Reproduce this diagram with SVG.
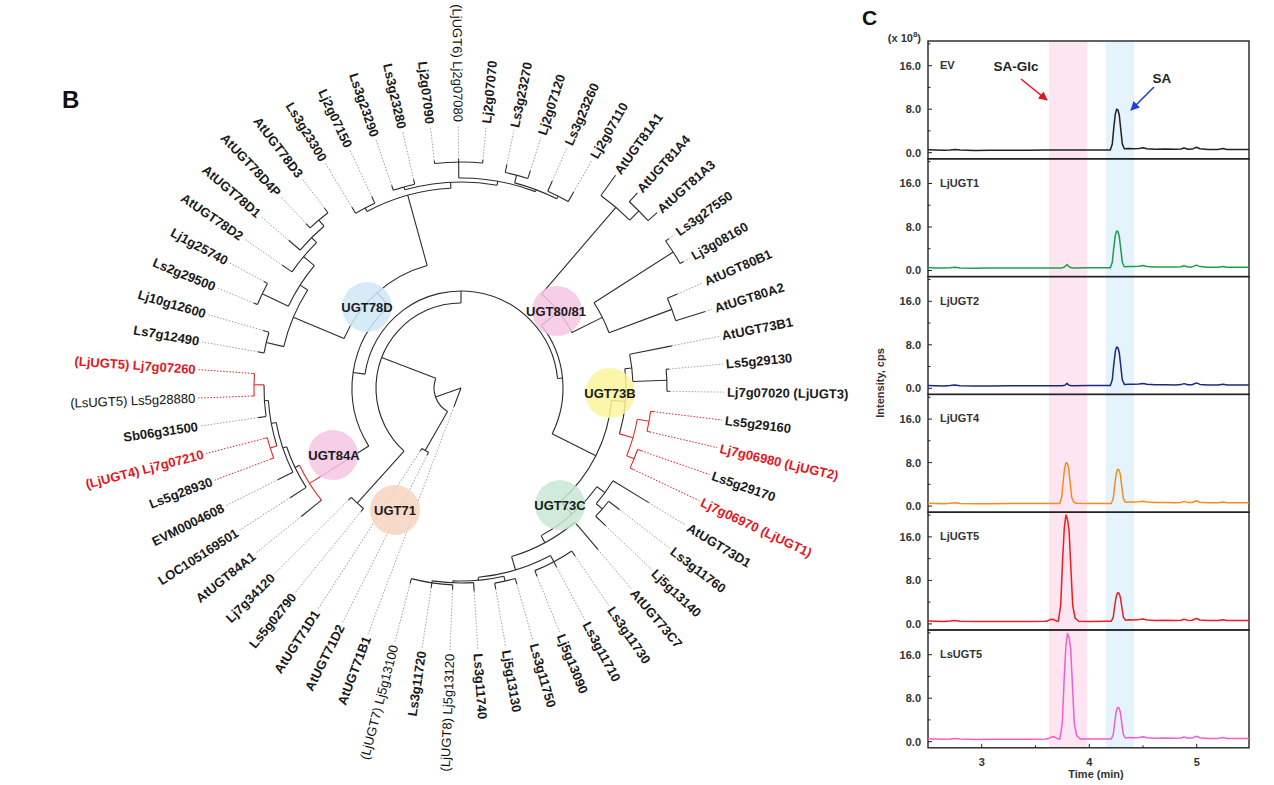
<svg xmlns="http://www.w3.org/2000/svg" width="1274" height="785" viewBox="0 0 1274 785">
<style>
.k{fill:none;stroke:#2b2b2b;stroke-width:1.1}
.rr{fill:none;stroke:#e8262b;stroke-width:1.1}
.dg{stroke:#9c9c9c;stroke-width:0.9;stroke-dasharray:1.5 1.6}
.dr{stroke:#e8262b;stroke-width:1;stroke-dasharray:1.5 1.6}
.lb{font-family:"Liberation Sans",Arial,sans-serif;font-size:13px;font-weight:bold;fill:#1a1a1a}
.lr{fill:#e8141c}
.ln{font-weight:normal;fill:#111;font-size:13px}
.cl{font-family:"Liberation Sans",Arial,sans-serif;font-size:13px;font-weight:bold;fill:#1a1a1a;text-anchor:middle}
.ax{font-family:"Liberation Sans",Arial,sans-serif;font-size:11px;font-weight:bold;fill:#333}
.fr{fill:none;stroke:#222;stroke-width:1.4}
.tk{stroke:#222;stroke-width:1}
.tr{fill:none;stroke-width:1.5;stroke-linejoin:round}
</style>
<defs>
<marker id="arR" viewBox="0 0 10 10" refX="9" refY="5" markerWidth="9" markerHeight="9" markerUnits="userSpaceOnUse" orient="auto"><path d="M0,0 L10,5 L0,10 z" fill="#e8141c"/></marker>
<marker id="arB" viewBox="0 0 10 10" refX="9" refY="5" markerWidth="9" markerHeight="9" markerUnits="userSpaceOnUse" orient="auto"><path d="M0,0 L10,5 L0,10 z" fill="#1d3fe0"/></marker>
</defs>
<rect width="1274" height="785" fill="#fff"/>
<text x="62" y="108" font-family="Liberation Sans,Arial,sans-serif" font-size="24" font-weight="bold" fill="#111">B</text>
<text x="862" y="25" font-family="Liberation Sans,Arial,sans-serif" font-size="21" font-weight="bold" fill="#111">C</text>

<g id="connectors" transform="translate(461,388)">
<g class="k">
<line x1="0" x2="20" transform="rotate(110.7)"/>
<line x1="0" x2="27" transform="rotate(160.4)"/>
<line x1="27" x2="72" transform="rotate(119.85)"/>
<line x1="72" x2="75" transform="rotate(116.8)"/><line x1="72" x2="75" transform="rotate(122.9)"/>
<line x1="27" x2="85" transform="rotate(201)"/>
<line x1="85" x2="155" transform="rotate(132.05)"/>
<line x1="155" x2="159" transform="rotate(129)"/><line x1="155" x2="159" transform="rotate(135.1)"/>
<line x1="85" x2="97" transform="rotate(270)"/>
<line x1="97" x2="109" transform="rotate(188.2)"/>
<line x1="97" x2="102" transform="rotate(354.35)"/>
<line x1="109" x2="150" transform="rotate(147.8)"/>
<line x1="179" x2="205" transform="rotate(141.2)"/>
<line x1="179" x2="184" transform="rotate(154.4)"/>
<line x1="184" x2="203" transform="rotate(147.3)"/>
<line x1="184" x2="188" transform="rotate(161.4)"/>
<line x1="188" x2="205" transform="rotate(153.4)"/>
<line x1="188" x2="193" transform="rotate(169.4)"/>
<line x1="193" x2="197" transform="rotate(176.3)"/>
<line x1="197" x2="205" transform="rotate(171.7)"/>
<line x1="109" x2="127" transform="rotate(228.7)"/>
<line x1="127" x2="182" transform="rotate(202.9)"/>
<line x1="182" x2="200" transform="rotate(193.15)"/>
<line x1="200" x2="206" transform="rotate(190.1)"/><line x1="200" x2="206" transform="rotate(196.2)"/>
<line x1="182" x2="191" transform="rotate(212.6)"/>
<line x1="191" x2="220" transform="rotate(205.35)"/>
<line x1="220" x2="224" transform="rotate(202.3)"/><line x1="220" x2="224" transform="rotate(208.4)"/>
<line x1="191" x2="205" transform="rotate(219.85)"/>
<line x1="205" x2="217" transform="rotate(214.5)"/>
<line x1="205" x2="212" transform="rotate(225.2)"/>
<line x1="212" x2="227" transform="rotate(220.6)"/>
<line x1="212" x2="220" transform="rotate(229.75)"/>
<line x1="220" x2="226" transform="rotate(226.7)"/><line x1="220" x2="226" transform="rotate(232.8)"/>
<line x1="127" x2="200" transform="rotate(254.55)"/>
<line x1="200" x2="204" transform="rotate(242)"/>
<line x1="204" x2="211" transform="rotate(238.9)"/><line x1="204" x2="211" transform="rotate(245)"/>
<line x1="200" x2="206" transform="rotate(267.1)"/>
<line x1="206" x2="209" transform="rotate(254.15)"/>
<line x1="209" x2="214" transform="rotate(251.1)"/><line x1="209" x2="214" transform="rotate(257.2)"/>
<line x1="206" x2="210" transform="rotate(280.1)"/>
<line x1="210" x2="226" transform="rotate(269.4)"/>
<line x1="226" x2="229" transform="rotate(263.3)"/><line x1="226" x2="229" transform="rotate(269.4)"/><line x1="226" x2="229" transform="rotate(275.5)"/>
<line x1="210" x2="212" transform="rotate(290.75)"/>
<line x1="212" x2="220" transform="rotate(284.65)"/>
<line x1="220" x2="228" transform="rotate(281.6)"/><line x1="220" x2="228" transform="rotate(287.7)"/>
<line x1="212" x2="215" transform="rotate(296.85)"/>
<line x1="215" x2="226" transform="rotate(293.8)"/><line x1="215" x2="226" transform="rotate(299.9)"/>
<line x1="102" x2="124" transform="rotate(322)"/>
<line x1="124" x2="238" transform="rotate(310.6)"/>
<line x1="238" x2="263" transform="rotate(306)"/>
<line x1="238" x2="251" transform="rotate(315.15)"/>
<line x1="251" x2="263" transform="rotate(312.1)"/><line x1="251" x2="263" transform="rotate(318.2)"/>
<line x1="124" x2="158" transform="rotate(333.45)"/>
<line x1="158" x2="252" transform="rotate(327.35)"/>
<line x1="252" x2="256" transform="rotate(324.3)"/><line x1="252" x2="256" transform="rotate(330.4)"/>
<line x1="158" x2="225" transform="rotate(339.55)"/>
<line x1="225" x2="236" transform="rotate(336.5)"/><line x1="225" x2="256" transform="rotate(342.6)"/>
<line x1="102" x2="151" transform="rotate(26.7)"/>
<line x1="151" x2="165" transform="rotate(4.7)"/>
<line x1="165" x2="172" transform="rotate(353.3)"/>
<line x1="172" x2="215" transform="rotate(348.7)"/>
<line x1="172" x2="206" transform="rotate(357.85)"/>
<line x1="206" x2="209" transform="rotate(354.8)"/><line x1="206" x2="209" transform="rotate(0.9)"/>
<line x1="151" x2="168" transform="rotate(48.7)"/>
<line x1="168" x2="178" transform="rotate(36)"/>
<line x1="178" x2="220" transform="rotate(31.4)"/>
<line x1="178" x2="186" transform="rotate(40.55)"/>
<line x1="186" x2="200" transform="rotate(37.5)"/><line x1="186" x2="200" transform="rotate(43.6)"/>
<line x1="168" x2="176" transform="rotate(61.5)"/>
<line x1="176" x2="212" transform="rotate(49.7)"/>
<line x1="176" x2="190" transform="rotate(73.3)"/>
<line x1="190" x2="197" transform="rotate(61.9)"/>
<line x1="197" x2="203" transform="rotate(55.8)"/><line x1="197" x2="203" transform="rotate(61.9)"/><line x1="197" x2="203" transform="rotate(68)"/>
<line x1="190" x2="193" transform="rotate(84.8)"/>
<line x1="193" x2="198" transform="rotate(77.15)"/>
<line x1="198" x2="204" transform="rotate(74.1)"/><line x1="198" x2="204" transform="rotate(80.2)"/>
<line x1="193" x2="195" transform="rotate(92.4)"/>
<line x1="195" x2="204" transform="rotate(86.3)"/>
<line x1="195" x2="197" transform="rotate(98.5)"/>
<line x1="197" x2="202" transform="rotate(92.4)"/><line x1="197" x2="202" transform="rotate(98.5)"/><line x1="197" x2="202" transform="rotate(104.6)"/>
<circle r="27" pathLength="360" stroke-dasharray="81.15 720" transform="rotate(119.85)"/>
<circle r="72" pathLength="360" stroke-dasharray="6.1 720" transform="rotate(116.8)"/>
<circle r="85" pathLength="360" stroke-dasharray="137.95 720" transform="rotate(132.05)"/>
<circle r="155" pathLength="360" stroke-dasharray="6.1 720" transform="rotate(129)"/>
<circle r="97" pathLength="360" stroke-dasharray="166.15 720" transform="rotate(188.2)"/>
<circle r="109" pathLength="360" stroke-dasharray="80.9 720" transform="rotate(147.8)"/>
<circle r="102" pathLength="360" stroke-dasharray="64.7 720" transform="rotate(322)"/>
<circle r="184" pathLength="360" stroke-dasharray="14.1 720" transform="rotate(147.3)"/>
<circle r="188" pathLength="360" stroke-dasharray="16 720" transform="rotate(153.4)"/>
<circle r="193" pathLength="360" stroke-dasharray="13.75 720" transform="rotate(162.55)"/>
<circle r="197" pathLength="360" stroke-dasharray="9.2 720" transform="rotate(171.7)"/>
<circle r="127" pathLength="360" stroke-dasharray="51.65 720" transform="rotate(202.9)"/>
<circle r="182" pathLength="360" stroke-dasharray="19.45 720" transform="rotate(193.15)"/>
<circle r="200" pathLength="360" stroke-dasharray="6.1 720" transform="rotate(190.1)"/>
<circle r="191" pathLength="360" stroke-dasharray="14.5 720" transform="rotate(205.35)"/>
<circle r="220" pathLength="360" stroke-dasharray="6.1 720" transform="rotate(202.3)"/>
<circle r="205" pathLength="360" stroke-dasharray="10.7 720" transform="rotate(214.5)"/>
<circle r="212" pathLength="360" stroke-dasharray="9.15 720" transform="rotate(220.6)"/>
<circle r="220" pathLength="360" stroke-dasharray="6.1 720" transform="rotate(226.7)"/>
<circle r="200" pathLength="360" stroke-dasharray="25.1 720" transform="rotate(242)"/>
<circle r="204" pathLength="360" stroke-dasharray="6.1 720" transform="rotate(238.9)"/>
<circle r="206" pathLength="360" stroke-dasharray="25.95 720" transform="rotate(254.15)"/>
<circle r="209" pathLength="360" stroke-dasharray="6.1 720" transform="rotate(251.1)"/>
<circle r="210" pathLength="360" stroke-dasharray="21.35 720" transform="rotate(269.4)"/>
<circle r="226" pathLength="360" stroke-dasharray="12.2 720" transform="rotate(263.3)"/>
<circle r="212" pathLength="360" stroke-dasharray="12.2 720" transform="rotate(284.65)"/>
<circle r="220" pathLength="360" stroke-dasharray="6.1 720" transform="rotate(281.6)"/>
<circle r="215" pathLength="360" stroke-dasharray="6.1 720" transform="rotate(293.8)"/>
<circle r="124" pathLength="360" stroke-dasharray="22.85 720" transform="rotate(310.6)"/>
<circle r="238" pathLength="360" stroke-dasharray="9.15 720" transform="rotate(306)"/>
<circle r="251" pathLength="360" stroke-dasharray="6.1 720" transform="rotate(312.1)"/>
<circle r="158" pathLength="360" stroke-dasharray="12.2 720" transform="rotate(327.35)"/>
<circle r="252" pathLength="360" stroke-dasharray="6.1 720" transform="rotate(324.3)"/>
<circle r="225" pathLength="360" stroke-dasharray="6.1 720" transform="rotate(336.5)"/>
<circle r="151" pathLength="360" stroke-dasharray="44 720" transform="rotate(4.7)"/>
<circle r="165" pathLength="360" stroke-dasharray="22.85 720" transform="rotate(353.3)"/>
<circle r="172" pathLength="360" stroke-dasharray="9.15 720" transform="rotate(348.7)"/>
<circle r="206" pathLength="360" stroke-dasharray="6.1 720" transform="rotate(354.8)"/>
<circle r="168" pathLength="360" stroke-dasharray="25.5 720" transform="rotate(36)"/>
<circle r="178" pathLength="360" stroke-dasharray="9.15 720" transform="rotate(31.4)"/>
<circle r="186" pathLength="360" stroke-dasharray="6.1 720" transform="rotate(37.5)"/>
<circle r="176" pathLength="360" stroke-dasharray="23.6 720" transform="rotate(49.7)"/>
<circle r="190" pathLength="360" stroke-dasharray="22.9 720" transform="rotate(61.9)"/>
<circle r="197" pathLength="360" stroke-dasharray="12.2 720" transform="rotate(55.8)"/>
<circle r="193" pathLength="360" stroke-dasharray="15.25 720" transform="rotate(77.15)"/>
<circle r="198" pathLength="360" stroke-dasharray="6.1 720" transform="rotate(74.1)"/>
<circle r="195" pathLength="360" stroke-dasharray="12.2 720" transform="rotate(86.3)"/>
<circle r="197" pathLength="360" stroke-dasharray="12.2 720" transform="rotate(92.4)"/>
</g>
<g class="rr">
<line x1="150" x2="179" transform="rotate(147.8)"/>
<line x1="193" x2="200" transform="rotate(162.55)"/>
<line x1="200" x2="203" transform="rotate(159.5)"/><line x1="200" x2="203" transform="rotate(165.6)"/>
<line x1="197" x2="207" transform="rotate(180.9)"/>
<line x1="207" x2="209" transform="rotate(177.8)"/><line x1="207" x2="209" transform="rotate(184)"/>
<line x1="165" x2="179" transform="rotate(16.15)"/>
<line x1="179" x2="191" transform="rotate(10.05)"/>
<line x1="191" x2="194" transform="rotate(7)"/><line x1="191" x2="194" transform="rotate(13.1)"/>
<line x1="179" x2="187" transform="rotate(22.25)"/>
<line x1="187" x2="191" transform="rotate(19.2)"/><line x1="187" x2="191" transform="rotate(25.3)"/>
<circle r="179" pathLength="360" stroke-dasharray="13.2 720" transform="rotate(141.2)"/>
<circle r="200" pathLength="360" stroke-dasharray="6.1 720" transform="rotate(159.5)"/>
<circle r="207" pathLength="360" stroke-dasharray="6.2 720" transform="rotate(177.8)"/>
<circle r="179" pathLength="360" stroke-dasharray="12.2 720" transform="rotate(10.05)"/>
<circle r="191" pathLength="360" stroke-dasharray="6.1 720" transform="rotate(7)"/>
<circle r="187" pathLength="360" stroke-dasharray="6.1 720" transform="rotate(19.2)"/>
</g>
<g class="dg">
<line x1="206" x2="263" transform="rotate(190.1)"/>
<line x1="206" x2="263" transform="rotate(196.2)"/>
<line x1="224" x2="263" transform="rotate(202.3)"/>
<line x1="224" x2="263" transform="rotate(208.4)"/>
<line x1="217" x2="263" transform="rotate(214.5)"/>
<line x1="227" x2="263" transform="rotate(220.6)"/>
<line x1="226" x2="263" transform="rotate(226.7)"/>
<line x1="226" x2="263" transform="rotate(232.8)"/>
<line x1="211" x2="263" transform="rotate(238.9)"/>
<line x1="211" x2="263" transform="rotate(245)"/>
<line x1="214" x2="263" transform="rotate(251.1)"/>
<line x1="214" x2="263" transform="rotate(257.2)"/>
<line x1="229" x2="263" transform="rotate(263.3)"/>
<line x1="229" x2="263" transform="rotate(269.4)"/>
<line x1="229" x2="263" transform="rotate(275.5)"/>
<line x1="228" x2="263" transform="rotate(281.6)"/>
<line x1="228" x2="263" transform="rotate(287.7)"/>
<line x1="226" x2="263" transform="rotate(293.8)"/>
<line x1="226" x2="263" transform="rotate(299.9)"/>
<line x1="256" x2="263" transform="rotate(324.3)"/>
<line x1="256" x2="263" transform="rotate(330.4)"/>
<line x1="236" x2="263" transform="rotate(336.5)"/>
<line x1="256" x2="263" transform="rotate(342.6)"/>
<line x1="215" x2="263" transform="rotate(348.7)"/>
<line x1="209" x2="263" transform="rotate(354.8)"/>
<line x1="209" x2="263" transform="rotate(0.9)"/>
<line x1="220" x2="263" transform="rotate(31.4)"/>
<line x1="200" x2="263" transform="rotate(37.5)"/>
<line x1="200" x2="263" transform="rotate(43.6)"/>
<line x1="212" x2="263" transform="rotate(49.7)"/>
<line x1="203" x2="263" transform="rotate(55.8)"/>
<line x1="203" x2="263" transform="rotate(61.9)"/>
<line x1="203" x2="263" transform="rotate(68)"/>
<line x1="204" x2="263" transform="rotate(74.1)"/>
<line x1="204" x2="263" transform="rotate(80.2)"/>
<line x1="204" x2="263" transform="rotate(86.3)"/>
<line x1="202" x2="263" transform="rotate(92.4)"/>
<line x1="202" x2="263" transform="rotate(98.5)"/>
<line x1="202" x2="263" transform="rotate(104.6)"/>
<line x1="20" x2="263" transform="rotate(110.7)"/>
<line x1="75" x2="263" transform="rotate(116.8)"/>
<line x1="75" x2="263" transform="rotate(122.9)"/>
<line x1="159" x2="263" transform="rotate(129)"/>
<line x1="159" x2="263" transform="rotate(135.1)"/>
<line x1="205" x2="263" transform="rotate(141.2)"/>
<line x1="203" x2="263" transform="rotate(147.3)"/>
<line x1="205" x2="263" transform="rotate(153.4)"/>
<line x1="205" x2="263" transform="rotate(171.7)"/>
</g>
<g class="dr">
<line x1="209" x2="263" transform="rotate(184)"/>
<line x1="209" x2="263" transform="rotate(177.8)"/>
<line x1="203" x2="263" transform="rotate(159.5)"/>
<line x1="203" x2="263" transform="rotate(165.6)"/>
<line x1="194" x2="263" transform="rotate(7)"/>
<line x1="194" x2="263" transform="rotate(13.1)"/>
<line x1="191" x2="263" transform="rotate(19.2)"/>
<line x1="191" x2="263" transform="rotate(25.3)"/>
</g>
</g>

<g id="clades">
<g id="clade-UGT78D"><circle cx="367" cy="307" r="25" fill="#cfe7f6" fill-opacity="0.85"/><text class="cl" x="367" y="311.5">UGT78D</text></g>
<g id="clade-UGT80-81"><circle cx="557" cy="311" r="25" fill="#f5c6e3" fill-opacity="0.85"/><text class="cl" x="556" y="315.5">UGT80/81</text></g>
<g id="clade-UGT73B"><circle cx="610" cy="393" r="25" fill="#fbf59c" fill-opacity="0.85"/><text class="cl" x="610" y="397.5" fill="#3a3810">UGT73B</text></g>
<g id="clade-UGT73C"><circle cx="560" cy="505" r="25" fill="#c9e8d5" fill-opacity="0.85"/><text class="cl" x="560" y="509.5">UGT73C</text></g>
<g id="clade-UGT84A"><circle cx="333" cy="455" r="25" fill="#f5c6e3" fill-opacity="0.85"/><text class="cl" x="334" y="459.5">UGT84A</text></g>
<g id="clade-UGT71"><circle cx="395" cy="510" r="25" fill="#f7d3c0" fill-opacity="0.85"/><text class="cl" x="395" y="514.5">UGT71</text></g>
</g>

<g id="leaves" transform="translate(461,388)">
<g id="n-Lj7g07260"><text class="lb lr" text-anchor="end" dy=".35em" transform="rotate(184) translate(266) rotate(180)">(LjUGT5) Lj7g07260</text></g>
<g id="n-Ls7g12490"><text class="lb" text-anchor="end" dy=".35em" transform="rotate(190.1) translate(266) rotate(180)">Ls7g12490</text></g>
<g id="n-Lj10g12600"><text class="lb" text-anchor="end" dy=".35em" transform="rotate(196.2) translate(266) rotate(180)">Lj10g12600</text></g>
<g id="n-Ls2g29500"><text class="lb" text-anchor="end" dy=".35em" transform="rotate(202.3) translate(266) rotate(180)">Ls2g29500</text></g>
<g id="n-Lj1g25740"><text class="lb" text-anchor="end" dy=".35em" transform="rotate(208.4) translate(266) rotate(180)">Lj1g25740</text></g>
<g id="n-AtUGT78D2"><text class="lb" text-anchor="end" dy=".35em" transform="rotate(214.5) translate(266) rotate(180)">AtUGT78D2</text></g>
<g id="n-AtUGT78D1"><text class="lb" text-anchor="end" dy=".35em" transform="rotate(220.6) translate(266) rotate(180)">AtUGT78D1</text></g>
<g id="n-AtUGT78D4P"><text class="lb" text-anchor="end" dy=".35em" transform="rotate(226.7) translate(266) rotate(180)">AtUGT78D4P</text></g>
<g id="n-AtUGT78D3"><text class="lb" text-anchor="end" dy=".35em" transform="rotate(232.8) translate(266) rotate(180)">AtUGT78D3</text></g>
<g id="n-Ls3g23300"><text class="lb" text-anchor="end" dy=".35em" transform="rotate(238.9) translate(266) rotate(180)">Ls3g23300</text></g>
<g id="n-Lj2g07150"><text class="lb" text-anchor="end" dy=".35em" transform="rotate(245) translate(266) rotate(180)">Lj2g07150</text></g>
<g id="n-Ls3g23290"><text class="lb" text-anchor="end" dy=".35em" transform="rotate(251.1) translate(266) rotate(180)">Ls3g23290</text></g>
<g id="n-Ls3g23280"><text class="lb" text-anchor="end" dy=".35em" transform="rotate(257.2) translate(266) rotate(180)">Ls3g23280</text></g>
<g id="n-Lj2g07090"><text class="lb" text-anchor="end" dy=".35em" transform="rotate(263.3) translate(266) rotate(180)">Lj2g07090</text></g>
<g id="n-Lj2g07080"><text class="lb ln" text-anchor="end" dy=".35em" transform="rotate(269.4) translate(266) rotate(180)">(LjUGT6) Lj2g07080</text></g>
<g id="n-Lj2g07070"><text class="lb" dy=".35em" transform="rotate(275.5) translate(266)">Lj2g07070</text></g>
<g id="n-Ls3g23270"><text class="lb" dy=".35em" transform="rotate(281.6) translate(266)">Ls3g23270</text></g>
<g id="n-Lj2g07120"><text class="lb" dy=".35em" transform="rotate(287.7) translate(266)">Lj2g07120</text></g>
<g id="n-Ls3g23260"><text class="lb" dy=".35em" transform="rotate(293.8) translate(266)">Ls3g23260</text></g>
<g id="n-Lj2g07110"><text class="lb" dy=".35em" transform="rotate(299.9) translate(266)">Lj2g07110</text></g>
<g id="n-AtUGT81A1"><text class="lb" dy=".35em" transform="rotate(306) translate(266)">AtUGT81A1</text></g>
<g id="n-AtUGT81A4"><text class="lb" dy=".35em" transform="rotate(312.1) translate(266)">AtUGT81A4</text></g>
<g id="n-AtUGT81A3"><text class="lb" dy=".35em" transform="rotate(318.2) translate(266)">AtUGT81A3</text></g>
<g id="n-Ls3g27550"><text class="lb" dy=".35em" transform="rotate(324.3) translate(266)">Ls3g27550</text></g>
<g id="n-Lj3g08160"><text class="lb" dy=".35em" transform="rotate(330.4) translate(266)">Lj3g08160</text></g>
<g id="n-AtUGT80B1"><text class="lb" dy=".35em" transform="rotate(336.5) translate(266)">AtUGT80B1</text></g>
<g id="n-AtUGT80A2"><text class="lb" dy=".35em" transform="rotate(342.6) translate(266)">AtUGT80A2</text></g>
<g id="n-AtUGT73B1"><text class="lb" dy=".35em" transform="rotate(348.7) translate(266)">AtUGT73B1</text></g>
<g id="n-Ls5g29130"><text class="lb" dy=".35em" transform="rotate(354.8) translate(266)">Ls5g29130</text></g>
<g id="n-Lj7g07020"><text class="lb" dy=".35em" transform="rotate(0.9) translate(266)">Lj7g07020 (LjUGT3)</text></g>
<g id="n-Ls5g29160"><text class="lb" dy=".35em" transform="rotate(7) translate(266)">Ls5g29160</text></g>
<g id="n-Lj7g06980"><text class="lb lr" dy=".35em" transform="rotate(13.1) translate(266)">Lj7g06980 (LjUGT2)</text></g>
<g id="n-Ls5g29170"><text class="lb" dy=".35em" transform="rotate(19.2) translate(266)">Ls5g29170</text></g>
<g id="n-Lj7g06970"><text class="lb lr" dy=".35em" transform="rotate(25.3) translate(266)">Lj7g06970 (LjUGT1)</text></g>
<g id="n-AtUGT73D1"><text class="lb" dy=".35em" transform="rotate(31.4) translate(266)">AtUGT73D1</text></g>
<g id="n-Ls3g11760"><text class="lb" dy=".35em" transform="rotate(37.5) translate(266)">Ls3g11760</text></g>
<g id="n-Lj5g13140"><text class="lb" dy=".35em" transform="rotate(43.6) translate(266)">Lj5g13140</text></g>
<g id="n-AtUGT73C7"><text class="lb" dy=".35em" transform="rotate(49.7) translate(266)">AtUGT73C7</text></g>
<g id="n-Ls3g11730"><text class="lb" dy=".35em" transform="rotate(55.8) translate(266)">Ls3g11730</text></g>
<g id="n-Ls3g11710"><text class="lb" dy=".35em" transform="rotate(61.9) translate(266)">Ls3g11710</text></g>
<g id="n-Lj5g13090"><text class="lb" dy=".35em" transform="rotate(68) translate(266)">Lj5g13090</text></g>
<g id="n-Ls3g11750"><text class="lb" dy=".35em" transform="rotate(74.1) translate(266)">Ls3g11750</text></g>
<g id="n-Lj5g13130"><text class="lb" dy=".35em" transform="rotate(80.2) translate(266)">Lj5g13130</text></g>
<g id="n-Ls3g11740"><text class="lb" dy=".35em" transform="rotate(86.3) translate(266)">Ls3g11740</text></g>
<g id="n-Lj5g13120"><text class="lb ln" text-anchor="end" dy=".35em" transform="rotate(92.4) translate(266) rotate(180)">(LjUGT8) Lj5g13120</text></g>
<g id="n-Ls3g11720"><text class="lb" text-anchor="end" dy=".35em" transform="rotate(98.5) translate(266) rotate(180)">Ls3g11720</text></g>
<g id="n-Lj5g13100"><text class="lb ln" text-anchor="end" dy=".35em" transform="rotate(104.6) translate(266) rotate(180)">(LjUGT7) Lj5g13100</text></g>
<g id="n-AtUGT71B1"><text class="lb" text-anchor="end" dy=".35em" transform="rotate(110.7) translate(266) rotate(180)">AtUGT71B1</text></g>
<g id="n-AtUGT71D2"><text class="lb" text-anchor="end" dy=".35em" transform="rotate(116.8) translate(266) rotate(180)">AtUGT71D2</text></g>
<g id="n-AtUGT71D1"><text class="lb" text-anchor="end" dy=".35em" transform="rotate(122.9) translate(266) rotate(180)">AtUGT71D1</text></g>
<g id="n-Ls5g02790"><text class="lb" text-anchor="end" dy=".35em" transform="rotate(129) translate(266) rotate(180)">Ls5g02790</text></g>
<g id="n-Lj7g34120"><text class="lb" text-anchor="end" dy=".35em" transform="rotate(135.1) translate(266) rotate(180)">Lj7g34120</text></g>
<g id="n-AtUGT84A1"><text class="lb" text-anchor="end" dy=".35em" transform="rotate(141.2) translate(266) rotate(180)">AtUGT84A1</text></g>
<g id="n-LOC105169501"><text class="lb" text-anchor="end" dy=".35em" transform="rotate(147.3) translate(266) rotate(180)">LOC105169501</text></g>
<g id="n-EVM0004608"><text class="lb" text-anchor="end" dy=".35em" transform="rotate(153.4) translate(266) rotate(180)">EVM0004608</text></g>
<g id="n-Ls5g28930"><text class="lb" text-anchor="end" dy=".35em" transform="rotate(159.5) translate(266) rotate(180)">Ls5g28930</text></g>
<g id="n-Lj7g07210"><text class="lb lr" text-anchor="end" dy=".35em" transform="rotate(165.6) translate(266) rotate(180)">(LjUGT4) Lj7g07210</text></g>
<g id="n-Sb06g31500"><text class="lb" text-anchor="end" dy=".35em" transform="rotate(171.7) translate(266) rotate(180)">Sb06g31500</text></g>
<g id="n-Ls5g28880"><text class="lb ln" text-anchor="end" dy=".35em" transform="rotate(177.8) translate(266) rotate(180)">(LsUGT5) Ls5g28880</text></g>
</g>

<g id="panelC">
<rect x="1049" y="41" width="38.3" height="707" fill="#fde6f2"/>
<rect x="1105.7" y="41" width="28.3" height="707" fill="#e5f3fd"/>
<text class="ax" x="921" y="42" text-anchor="end">(x 10<tspan font-size="8" dy="-5">8</tspan><tspan dy="5">)</tspan></text>
<text class="ax" transform="translate(884,383) rotate(-90)" text-anchor="middle" font-size="10.8">Intensity, cps</text>

<g id="p-EV">
<rect class="fr" x="928" y="41" width="321" height="117.8"/>
<path class="tk" d="M928 152.7h4M928 109.2h4M928 65.7h4M928 130.9h2.5M928 87.4h2.5M928 43.9h2.5"/>
<text class="ax" x="921" y="69.7" text-anchor="end">16.0</text><text class="ax" x="921" y="113.2" text-anchor="end">8.0</text><text class="ax" x="921" y="156.7" text-anchor="end">0.0</text>
<text class="ax" x="940" y="69" font-size="11.5">EV</text>
<path class="tr" stroke="#222" d="M928,149.8 L935,150.1 L944,150.3 L950,149.9 L955,149.4 L960,150.1 L975,150.4 L990,150.3 L1010,150.2 L1030,150.2 L1045,150.1 L1060,150.1 L1080,150 L1100,149.9 L1110.3,150 L1112.3,143.9 L1113.8,127.6 L1115.3,114.1 L1116.6,109.2 L1118,110 L1119.3,115.3 L1120.8,129.6 L1122.3,143.9 L1124.3,148.8 L1129,148.6 L1133,148.7 L1139,148.4 L1143,147.8 L1147,148.7 L1155,149.2 L1165,149.1 L1175,149.3 L1181,149 L1184,148 L1188,149.2 L1192,149.1 L1196.5,147.3 L1200,148.8 L1208,149.4 L1218,149.4 L1223,148.6 L1227,149.4 L1249,149.4"/>
<text x="1016" y="71" font-family="Liberation Sans,Arial,sans-serif" font-size="13.5" font-weight="bold" fill="#222" text-anchor="middle">SA-Glc</text>
<text x="1162" y="83" font-family="Liberation Sans,Arial,sans-serif" font-size="13.5" font-weight="bold" fill="#222" text-anchor="middle">SA</text>
<line x1="1021" y1="79" x2="1047" y2="100" stroke="#e8141c" stroke-width="1.6" marker-end="url(#arR)"/>
<line x1="1154" y1="87" x2="1131" y2="110" stroke="#1d3fe0" stroke-width="1.6" marker-end="url(#arB)"/>
</g>

<g id="p-LjUGT1" transform="translate(0,117.8)">
<rect class="fr" x="928" y="41" width="321" height="117.8"/>
<path class="tk" d="M928 152.7h4M928 109.2h4M928 65.7h4M928 130.9h2.5M928 87.4h2.5M928 43.9h2.5"/>
<text class="ax" x="921" y="69.7" text-anchor="end">16.0</text><text class="ax" x="921" y="113.2" text-anchor="end">8.0</text><text class="ax" x="921" y="156.7" text-anchor="end">0.0</text>
<text class="ax" x="940" y="69" font-size="11.5">LjUGT1</text>
<path class="tr" stroke="#1e9e4a" d="M928,149.8 L935,150.1 L944,150.3 L950,149.9 L955,149.4 L960,150.1 L975,150.4 L990,150.3 L1010,150.2 L1030,150.2 L1045,150.1 L1062,150.1 L1064.5,149.2 L1067,146.8 L1069.5,149.2 L1072,150.1 L1090,150 L1110.3,150 L1112.3,144.5 L1113.8,129.8 L1115.3,117.6 L1116.6,113.2 L1118,113.9 L1119.3,118.7 L1120.8,131.6 L1122.3,144.5 L1124.3,148.9 L1129,148.6 L1133,148.7 L1139,148.4 L1143,147.8 L1147,148.7 L1155,149.2 L1165,149.1 L1175,149.3 L1181,149 L1184,148 L1188,149.2 L1192,149.1 L1196.5,147.3 L1200,148.8 L1208,149.4 L1218,149.4 L1223,148.6 L1227,149.4 L1249,149.4"/>
</g>

<g id="p-LjUGT2" transform="translate(0,235.6)">
<rect class="fr" x="928" y="41" width="321" height="117.8"/>
<path class="tk" d="M928 152.7h4M928 109.2h4M928 65.7h4M928 130.9h2.5M928 87.4h2.5M928 43.9h2.5"/>
<text class="ax" x="921" y="69.7" text-anchor="end">16.0</text><text class="ax" x="921" y="113.2" text-anchor="end">8.0</text><text class="ax" x="921" y="156.7" text-anchor="end">0.0</text>
<text class="ax" x="940" y="69" font-size="11.5">LjUGT2</text>
<path class="tr" stroke="#1a2a80" d="M928,149.8 L935,150.1 L944,150.3 L950,149.9 L955,149.4 L960,150.1 L975,150.4 L990,150.3 L1010,150.2 L1030,150.2 L1045,150.1 L1062,150.1 L1065,149.6 L1067,147.8 L1069,149.6 L1072,150.1 L1090,150 L1110.3,150 L1112.3,144.2 L1113.8,128.8 L1115.3,116 L1116.6,111.4 L1118,112.2 L1119.3,117.2 L1120.8,130.7 L1122.3,144.2 L1124.3,148.8 L1129,148.6 L1133,148.7 L1139,148.4 L1143,147.8 L1147,148.7 L1155,149.2 L1165,149.1 L1175,149.3 L1181,149 L1184,148 L1188,149.2 L1192,149.1 L1196.5,147.3 L1200,148.8 L1208,149.4 L1218,149.4 L1223,148.6 L1227,149.4 L1249,149.4"/>
</g>

<g id="p-LjUGT4" transform="translate(0,353.4)">
<rect class="fr" x="928" y="41" width="321" height="117.8"/>
<path class="tk" d="M928 152.7h4M928 109.2h4M928 65.7h4M928 130.9h2.5M928 87.4h2.5M928 43.9h2.5"/>
<text class="ax" x="921" y="69.7" text-anchor="end">16.0</text><text class="ax" x="921" y="113.2" text-anchor="end">8.0</text><text class="ax" x="921" y="156.7" text-anchor="end">0.0</text>
<text class="ax" x="940" y="69" font-size="11.5">LjUGT4</text>
<path class="tr" stroke="#f78b1f" d="M928,149.8 L935,150.1 L944,150.3 L950,149.9 L955,149.4 L960,150.1 L975,150.4 L990,150.3 L1010,150.2 L1030,150.2 L1045,150.1 L1059.7,150 L1061.7,143.9 L1063.2,127.6 L1064.7,114.2 L1066,109.3 L1067.4,110.1 L1068.7,115.4 L1070.2,129.6 L1071.7,143.9 L1073.7,148.8 L1076.7,149.8 L1090,150.1 L1105,150.1 L1111.3,150 L1113.3,144.9 L1114.8,131.2 L1116.3,120 L1117.6,115.9 L1119,116.6 L1120.3,121 L1121.8,133 L1123.3,144.9 L1125.3,148.9 L1129,148.6 L1133,148.7 L1139,148.4 L1143,147.8 L1147,148.7 L1155,149.2 L1165,149.1 L1175,149.3 L1181,149 L1184,148 L1188,149.2 L1192,149.1 L1196.5,147.3 L1200,148.8 L1208,149.4 L1218,149.4 L1223,148.6 L1227,149.4 L1249,149.4"/>
</g>

<g id="p-LjUGT5" transform="translate(0,471.2)">
<rect class="fr" x="928" y="41" width="321" height="117.8"/>
<path class="tk" d="M928 152.7h4M928 109.2h4M928 65.7h4M928 130.9h2.5M928 87.4h2.5M928 43.9h2.5"/>
<text class="ax" x="921" y="69.7" text-anchor="end">16.0</text><text class="ax" x="921" y="113.2" text-anchor="end">8.0</text><text class="ax" x="921" y="156.7" text-anchor="end">0.0</text>
<text class="ax" x="940" y="69" font-size="11.5">LjUGT5</text>
<path class="tr" stroke="#ee1c1c" d="M928,149.8 L935,150.1 L944,150.3 L950,149.9 L955,149.4 L960,150.1 L975,150.4 L990,150.3 L1010,150.2 L1030,150.2 L1045,150.1 L1047,150 L1050,148.4 L1053,148 L1055.5,149.5 L1058.3,150 L1060.7,134.1 L1062.5,91.6 L1064.3,56.6 L1065.9,43.9 L1067.5,48.1 L1069.1,59.8 L1070.9,97 L1072.7,134.1 L1075.1,146.8 L1078.7,150 L1090,150.2 L1105,150.1 L1111.3,150 L1113.3,145.7 L1114.8,134.3 L1116.3,124.9 L1117.6,121.5 L1119,122.1 L1120.3,125.8 L1121.8,135.8 L1123.3,145.7 L1125.3,149 L1129,148.6 L1133,148.7 L1139,148.4 L1143,147.8 L1147,148.7 L1155,149.2 L1165,149.1 L1175,149.3 L1181,149 L1184,148 L1188,149.2 L1192,149.1 L1196.5,147.3 L1200,148.8 L1208,149.4 L1218,149.4 L1223,148.6 L1227,149.4 L1249,149.4"/>
</g>

<g id="p-LsUGT5" transform="translate(0,589)">
<rect class="fr" x="928" y="41" width="321" height="117.8"/>
<path class="tk" d="M928 152.7h4M928 109.2h4M928 65.7h4M928 130.9h2.5M928 87.4h2.5M928 43.9h2.5"/>
<text class="ax" x="921" y="69.7" text-anchor="end">16.0</text><text class="ax" x="921" y="113.2" text-anchor="end">8.0</text><text class="ax" x="921" y="156.7" text-anchor="end">0.0</text>
<text class="ax" x="940" y="69" font-size="11.5">LsUGT5</text>
<path class="tr" stroke="#f55ccd" d="M928,149.8 L935,150.1 L944,150.3 L950,149.9 L955,149.4 L960,150.1 L975,150.4 L990,150.3 L1010,150.2 L1030,150.2 L1045,150.1 L1048,149.8 L1051,148.2 L1054,147.8 L1057,149.4 L1059.9,150 L1062.3,134.2 L1064.1,91.9 L1065.9,57.1 L1067.5,44.4 L1069.1,48.6 L1070.7,60.2 L1072.5,97.2 L1074.3,134.2 L1076.7,146.8 L1080.3,150 L1090,150.1 L1105,150.1 L1111.3,150 L1113.3,145.3 L1114.8,132.6 L1116.3,122.2 L1117.6,118.4 L1119,119 L1120.3,123.1 L1121.8,134.2 L1123.3,145.3 L1125.3,149 L1129,148.6 L1133,148.7 L1139,148.4 L1143,147.8 L1147,148.7 L1155,149.2 L1165,149.1 L1175,149.3 L1181,149 L1184,148 L1188,149.2 L1192,149.1 L1196.5,147.3 L1200,148.8 L1208,149.4 L1218,149.4 L1223,148.6 L1227,149.4 L1249,149.4"/>
<path class="tk" d="M981.75 158.8v-4M1089.25 158.8v-4M1196.75 158.8v-4M1035.5 158.8v-2.5M1143 158.8v-2.5"/>
</g>
<text class="ax" x="981.75" y="766" text-anchor="middle">3</text>
<text class="ax" x="1089.25" y="766" text-anchor="middle">4</text>
<text class="ax" x="1196.75" y="766" text-anchor="middle">5</text>
<text class="ax" x="1096" y="778" text-anchor="middle" font-size="10.5">Time (min)</text>
</g>
</svg>
